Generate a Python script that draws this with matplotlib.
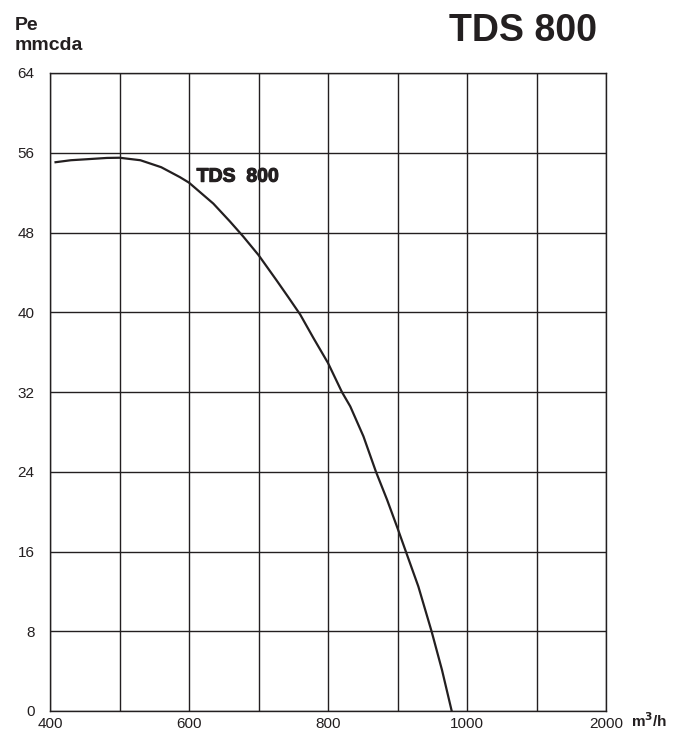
import matplotlib
matplotlib.use("Agg")
import matplotlib.pyplot as plt
import matplotlib.patheffects as pe
import numpy as np

plt.rcParams['font.family'] = ['Liberation Sans', 'DejaVu Sans']

# Data (flow m3/h, pressure mmcda)
flow = [408, 430, 453, 482, 500, 530, 560, 587, 600, 620, 635, 659, 678, 700,
        726, 743, 760, 779, 800, 820, 832, 851, 869, 885, 900, 912, 930, 949,
        964, 978]
pressure = [55.05, 55.25, 55.35, 55.48, 55.5, 55.25, 54.55, 53.55, 53.0, 51.8,
            50.9, 49.1, 47.6, 45.74, 43.2, 41.5, 39.77, 37.42, 34.91, 32.0,
            30.56, 27.55, 24.0, 21.19, 18.35, 16.0, 12.49, 8.0, 4.12, 0.0]

x_ticks = [400, 600, 800, 1000, 2000]
x_grid = [400, 500, 600, 700, 800, 900, 1000, 1500, 2000]
y_ticks = [0, 8, 16, 24, 32, 40, 48, 56, 64]

INK = '#231f20'


def fwd(q):
    q = np.asarray(q, dtype=float)
    return np.where(q <= 1000, (q - 400) / 100.0, 6 + (q - 1000) / 500.0)


def inv(p):
    p = np.asarray(p, dtype=float)
    return np.where(p <= 6, 400 + p * 100.0, 1000 + (p - 6) * 500.0)


fig = plt.figure(figsize=(6.9, 7.31), dpi=100)
ax = fig.add_axes([50 / 690, 20 / 731, 556 / 690, 638 / 731])
ax.set_xscale('function', functions=(fwd, inv))
ax.set_xlim(400, 2000)
ax.set_ylim(0, 64)

ax.set_xticks(x_grid)
ax.set_xticklabels([str(v) if v in x_ticks else '' for v in x_grid])
ax.set_yticks(y_ticks)
ax.set_yticklabels([str(v) for v in y_ticks])
ax.tick_params(axis='both', length=0, labelsize=11, colors=INK)
ax.tick_params(axis='y', pad=11)
ax.tick_params(axis='x', pad=4)
ax.grid(True, color=INK, linewidth=1.0)
for s in ax.spines.values():
    s.set_color(INK)
    s.set_linewidth(1.0)

ax.plot(flow, pressure, color=INK, linewidth=1.6, zorder=3)

ax.text(611, 53.1, 'TDS  800', fontsize=14, fontweight='bold', color=INK,
        ha='left', va='baseline',
        path_effects=[pe.withStroke(linewidth=0.8, foreground=INK)])

fig.text(15 / 690, 1 - 30 / 731, 'Pe', fontsize=14, fontweight='bold',
         color=INK, ha='left', va='baseline')
fig.text(15 / 690, 1 - 50 / 731, 'mmcda', fontsize=14, fontweight='bold',
         color=INK, ha='left', va='baseline')
fig.text(597 / 690, 1 - 41 / 731, 'TDS 800', fontsize=27, fontweight='bold',
         color=INK, ha='right', va='baseline')
fig.text(631 / 690, 1 - 727 / 731, r'm$^{\mathbf{3}}$/h', fontsize=11, fontweight='bold',
         color=INK, ha='left', va='baseline')

fig.savefig('out.png', dpi=100)
